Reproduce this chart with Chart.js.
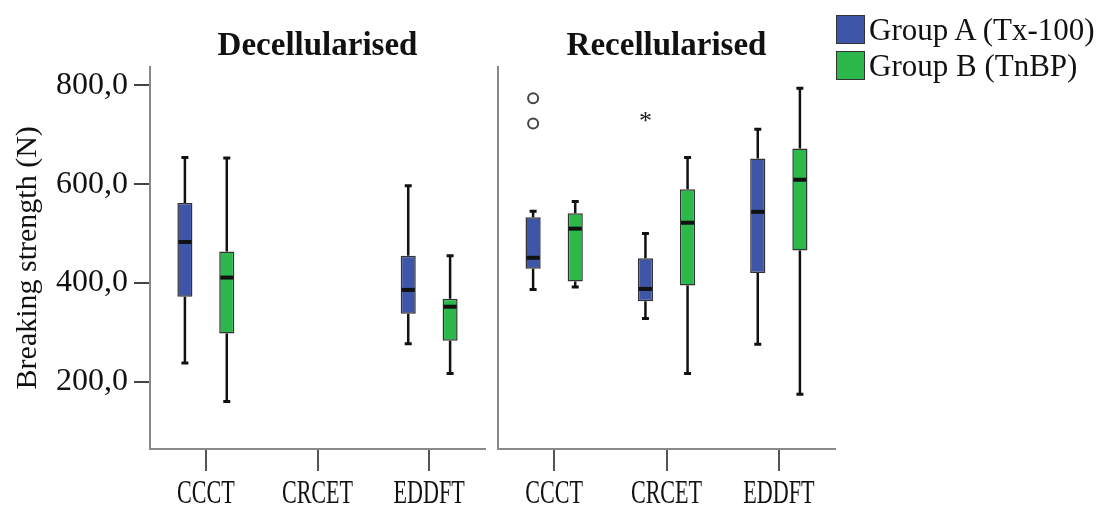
<!DOCTYPE html>
<html>
<head>
<meta charset="utf-8">
<script src="https://cdn.jsdelivr.net/npm/chart.js@4.4.1/dist/chart.umd.min.js"></script>
<style>
body { margin: 0; background: #fff; width: 1117px; height: 509px; position: relative; overflow: hidden; font-family: "Liberation Serif", serif; }
#left { position: absolute; left: 0; top: 0; }
#right { position: absolute; left: 492px; top: 0; }
#legend { position: absolute; left: 836px; top: 11px; font-size: 31px; color: #111; line-height: 1; }
.item { display: flex; align-items: center; height: 36px; }
.sw { width: 27px; height: 27px; border: 1.5px solid #333; margin-right: 4px; }
</style>
</head>
<body>
<canvas id="left" width="492" height="509"></canvas>
<canvas id="right" width="345" height="509"></canvas>
<div id="legend"></div>
<script>
const categories = ['CCCT', 'CRCET', 'EDDFT'];
const groupNames = ['Group A (Tx-100)', 'Group B (TnBP)'];
const groupColors = ['#3f55a7', '#2db84b'];
const yTicks = [200, 400, 600, 800];

// box summaries: [min, q1, median, q3, max]
const decelA = [[238, 372, 483, 562, 654], null, [277, 338, 386, 455, 597]];
const decelB = [[160, 298, 411, 464, 653], null, [217, 283, 352, 368, 455]];
const recelA = [[387, 429, 451, 533, 545], [328, 363, 388, 450, 500], [276, 420, 544, 652, 711]];
const recelB = [[392, 403, 510, 541, 565], [217, 395, 522, 590, 654], [175, 466, 609, 672, 794]];

// outliers (only group A, recellularised)
const recelAOutliers = [[774, 723], [736], []];
const recelAOutlierMark = ['circle', 'star', null];

// legend
document.getElementById('legend').innerHTML = groupNames.map((n, i) =>
  '<div class="item"><div class="sw" style="background:' + groupColors[i] + '"></div>' + n + '</div>').join('');

const boxPlugin = {
  id: 'boxplot',
  afterDatasetsDraw(chart) {
    const ctx = chart.ctx, ys = chart.scales.y;
    chart.data.datasets.forEach((ds, i) => {
      const meta = chart.getDatasetMeta(i);
      ds.stats.forEach((s, j) => {
        if (!s) return;
        const bar = meta.data[j];
        const x = bar.x, hw = bar.width / 2;
        ctx.save();
        ctx.strokeStyle = '#111';
        ctx.lineWidth = 2.5;
        ctx.beginPath();
        ctx.moveTo(x, ys.getPixelForValue(s[3]));
        ctx.lineTo(x, ys.getPixelForValue(s[4]));
        ctx.moveTo(x, ys.getPixelForValue(s[1]));
        ctx.lineTo(x, ys.getPixelForValue(s[0]));
        ctx.stroke();
        // caps
        ctx.lineWidth = 3;
        ctx.beginPath();
        [s[0], s[4]].forEach(v => {
          const py = ys.getPixelForValue(v);
          ctx.moveTo(x - 3.5, py);
          ctx.lineTo(x + 3.5, py);
        });
        ctx.stroke();
        // median
        ctx.lineWidth = 4;
        ctx.beginPath();
        const pm = ys.getPixelForValue(s[2]);
        ctx.moveTo(x - hw + 1, pm);
        ctx.lineTo(x + hw - 1, pm);
        ctx.stroke();
        // outliers
        if (ds.outliers && ds.outliers[j]) {
          ds.outliers[j].forEach(v => {
            const py = ys.getPixelForValue(v);
            if (ds.marks[j] === 'circle') {
              ctx.lineWidth = 2;
              ctx.strokeStyle = '#444';
              ctx.beginPath();
              ctx.arc(x, py, 5, 0, Math.PI * 2);
              ctx.stroke();
            } else {
              ctx.fillStyle = '#222';
              ctx.font = '26px "Liberation Serif"';
              ctx.textAlign = 'center';
              ctx.textBaseline = 'middle';
              ctx.fillText('*', x, py + 5);
            }
          });
        }
        ctx.restore();
      });
    });
  },
  afterDraw(chart) {
    // x labels, drawn narrow like the original
    const xs = chart.scales.x, ctx = chart.ctx;
    ctx.save();
    ctx.font = '34px "Liberation Serif"';
    ctx.fillStyle = '#111';
    ctx.textAlign = 'center';
    ctx.textBaseline = 'middle';
    categories.forEach((c, i) => {
      ctx.save();
      ctx.translate(xs.getPixelForValue(i), chart.chartArea.bottom + 45);
      ctx.scale(0.65, 1);
      ctx.fillText(c, 0, 0);
      ctx.restore();
    });
    ctx.restore();
  }
};

function makePanel(id, title, dataA, dataB, showY, yWidth, padRight, outliers, marks) {
  const mk = (stats, k) => ({
    label: groupNames[k],
    data: stats.map(s => s ? [s[1], s[3]] : null),
    stats: stats,
    outliers: k === 0 ? outliers : null,
    marks: marks,
    backgroundColor: groupColors[k],
    borderColor: '#333',
    borderWidth: 1.5,
    borderSkipped: false,
    categoryPercentage: 0.75,
    barPercentage: 0.36
  });
  return new Chart(document.getElementById(id), {
    type: 'bar',
    data: { labels: categories, datasets: [mk(dataA, 0), mk(dataB, 1)] },
    options: {
      responsive: false,
      animation: false,
      layout: { padding: { left: 0, right: padRight, top: 0, bottom: 0 } },
      plugins: {
        legend: { display: false },
        tooltip: { enabled: false },
        title: {
          display: true,
          text: title,
          fullSize: false,
          color: '#111',
          font: { family: '"Liberation Serif"', size: 33, weight: 'bold' },
          padding: { top: 27, bottom: 0 }
        }
      },
      scales: {
        x: {
          grid: { display: true, offset: false, drawOnChartArea: false, drawTicks: true, tickLength: 22, color: '#555', lineWidth: 2 },
          border: { display: true, color: '#8a8a8a', width: 2 },
          ticks: { color: 'rgba(0,0,0,0)', font: { size: 5 }, padding: 16, autoSkip: false, maxRotation: 0, minRotation: 0 }
        },
        y: {
          min: 64,
          max: 838,
          afterBuildTicks: s => { s.ticks = yTicks.map(v => ({ value: v })); },
          afterFit: s => { s.width = yWidth; },
          grid: { display: true, drawOnChartArea: false, drawTicks: showY, tickLength: 16, color: '#444', lineWidth: 2 },
          border: { display: true, color: '#8a8a8a', width: 2 },
          ticks: {
            display: showY,
            color: '#111',
            padding: 6,
            font: { family: '"Liberation Serif"', size: 32 },
            callback: v => v.toFixed(1).replace('.', ',')
          },
          title: {
            display: showY,
            text: 'Breaking strength (N)',
            color: '#111',
            font: { family: '"Liberation Serif"', size: 30 },
            padding: { top: 10, bottom: 0 }
          }
        }
      }
    },
    plugins: [boxPlugin]
  });
}

Chart.defaults.font.family = '"Liberation Serif"';
makePanel('left', 'Decellularised', decelA, decelB, true, 150, 7, null, null);
makePanel('right', 'Recellularised', recelA, recelB, false, 6, 2, recelAOutliers, recelAOutlierMark);
</script>
</body>
</html>
